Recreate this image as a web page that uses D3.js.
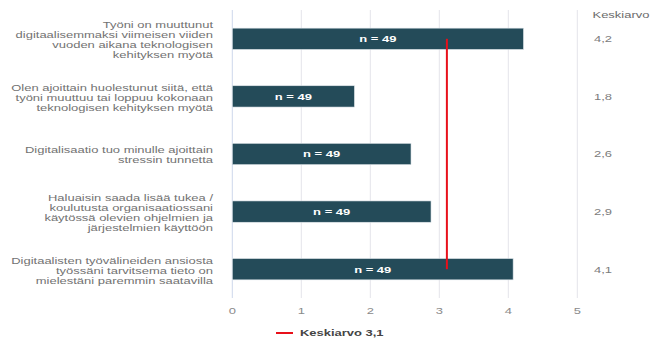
<!DOCTYPE html>
<html lang="fi">
<head>
<meta charset="utf-8">
<script src="https://cdn.jsdelivr.net/npm/d3@7"></script>
<style>
  html, body { margin: 0; padding: 0; background: #ffffff; }
  svg { display: block; font-family: "Liberation Sans", Arial, Helvetica, sans-serif; }
</style>
</head>
<body>
<svg id="chart" width="658" height="343"></svg>
<script>
// Survey statements (one array entry per statement, split into display lines)
const categories = [
  ["Työni on muuttunut", "digitaalisemmaksi viimeisen viiden", "vuoden aikana teknologisen", "kehityksen myötä"],
  ["Olen ajoittain huolestunut siitä, että", "työni muuttuu tai loppuu kokonaan", "teknologisen kehityksen myötä"],
  ["Digitalisaatio tuo minulle ajoittain", "stressin tunnetta"],
  ["Haluaisin saada lisää tukea /", "koulutusta organisaatiossani", "käytössä olevien ohjelmien ja", "järjestelmien käyttöön"],
  ["Digitaalisten työvälineiden ansiosta", "työssäni tarvitsema tieto on", "mielestäni paremmin saatavilla"]
];
// Mean score per statement (scale 0–5)
const values = [4.22, 1.77, 2.59, 2.88, 4.07];
// Respondents per statement
const counts = [49, 49, 49, 49, 49];
// Overall mean across statements
const overallMean = 3.11;
const xTicks = [0, 1, 2, 3, 4, 5];
const valueHeader = "Keskiarvo";
const legendLabel = "Keskiarvo";

const fmt = v => d3.format(".1f")(v).replace(".", ",");
const SX = 1.36;           // horizontal text stretch used throughout the chart
const FS = 9.55;

const svg = d3.select("#chart");

const x = d3.scaleLinear().domain([0, 5]).range([232.3, 577.3]);
const y = d3.scaleBand()
  .domain(d3.range(categories.length))
  .range([10, 298])
  .paddingInner(0.63)
  .paddingOuter(0.315);

// helper: horizontally stretched text
function stretchedText(g, tx, ty, txt, anchor) {
  return g.append("text")
    .attr("transform", `translate(${tx},${ty}) scale(${SX},1)`)
    .attr("text-anchor", anchor)
    .attr("dominant-baseline", "central")
    .attr("font-size", FS)
    .text(txt);
}

// gridlines
svg.append("g")
  .selectAll("line")
  .data(xTicks.filter(t => t > 0))
  .join("line")
  .attr("x1", d => x(d)).attr("x2", d => x(d))
  .attr("y1", 10).attr("y2", 298)
  .attr("stroke", "#e4e4ea")
  .attr("stroke-width", 1);

// zero axis line
svg.append("line")
  .attr("x1", x(0)).attr("x2", x(0))
  .attr("y1", 10).attr("y2", 298)
  .attr("stroke", "#cdd8ec")
  .attr("stroke-width", 1);

// tick labels
const tickG = svg.append("g").attr("fill", "#8a8a8a");
xTicks.forEach(t => stretchedText(tickG, x(t), 311, String(t), "middle"));

// bars
svg.append("g")
  .selectAll("rect")
  .data(values)
  .join("rect")
  .attr("x", x(0))
  .attr("y", (d, i) => y(i))
  .attr("width", d => x(d) - x(0))
  .attr("height", y.bandwidth())
  .attr("fill", "#244b59")
  .attr("stroke", "#dfe6ea")
  .attr("stroke-width", 0.6);

// n labels inside bars
const nG = svg.append("g").attr("fill", "#ffffff").attr("font-weight", "bold");
values.forEach((v, i) => {
  stretchedText(nG, (x(0) + x(v)) / 2, y(i) + y.bandwidth() / 2, `n = ${counts[i]}`, "middle");
});

// overall mean line
svg.append("line")
  .attr("x1", x(overallMean)).attr("x2", x(overallMean))
  .attr("y1", y(0) + y.bandwidth() / 2)
  .attr("y2", y(categories.length - 1) + y.bandwidth() / 2)
  .attr("stroke", "#e8101a")
  .attr("stroke-width", 2);

// category labels
const catG = svg.append("g").attr("fill", "#727272");
const lineH = 10;
categories.forEach((lines, i) => {
  const cy = y(i) + y.bandwidth() / 2 + 1;
  const start = cy - (lines.length - 1) * lineH / 2;
  lines.forEach((ln, j) => stretchedText(catG, 213, start + j * lineH, ln, "end"));
});

// value column
const valG = svg.append("g").attr("fill", "#7c7c7c");
stretchedText(valG, 592.5, 15, valueHeader, "start").attr("fill", "#6b6b6b");
values.forEach((v, i) => stretchedText(valG, 594, y(i) + y.bandwidth() / 2, fmt(v), "start"));

// legend
svg.append("line")
  .attr("x1", 276).attr("x2", 293)
  .attr("y1", 333).attr("y2", 333)
  .attr("stroke", "#e8101a")
  .attr("stroke-width", 2);
stretchedText(svg, 300, 333, `${legendLabel} ${fmt(overallMean)}`, "start")
  .attr("fill", "#444444")
  .attr("font-weight", "bold");
</script>
</body>
</html>
